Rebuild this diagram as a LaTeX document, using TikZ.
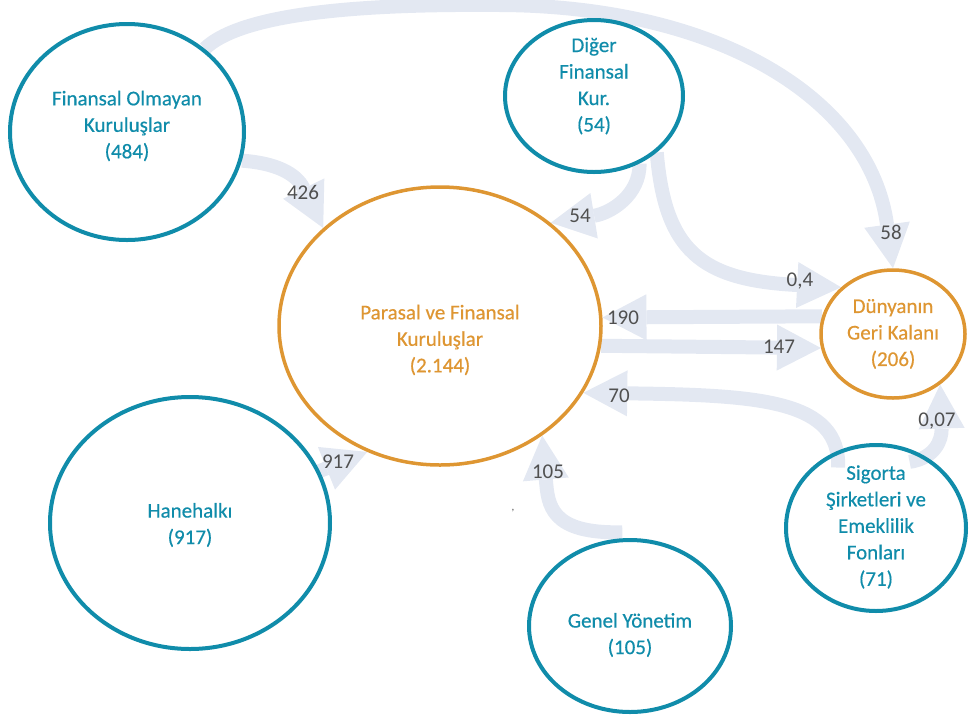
\documentclass[tikz,border=0pt]{standalone}
\usepackage{fontspec}
\setmainfont{Carlito}
\newfontfamily\sekfont{Carlito}[FakeBold=0.4]
\usepackage{tikz}
\usetikzlibrary{arrows.meta,shapes.geometric,backgrounds}
\definecolor{sekTeal}{RGB}{16,140,170}
\definecolor{sekOrange}{RGB}{222,150,50}
\definecolor{akimGri}{RGB}{227,232,242}
\definecolor{etiketGri}{RGB}{80,80,80}

\begin{document}
\begin{tikzpicture}[x=1pt, y=-1pt,
  sektor/.style={ellipse, draw=sekTeal, line width=4pt, fill=white, inner sep=0pt},
  merkez/.style={ellipse, draw=sekOrange, line width=3.5pt, fill=white, inner sep=0pt},
  yazi/.style={align=center, text=sekTeal, inner sep=0pt, font=\sekfont\fontsize{21}{26.5}\selectfont},
  akim/.style={draw=akimGri, line width=14pt, -{Triangle[length=44pt,width=46pt,line width=0pt]}},
  deger/.style={text=etiketGri, inner sep=0pt, font=\fontsize{21}{25}\selectfont}]
\clip (0,0) rectangle (970,716);
%%%%% Sektorler %%%%%
\node[sektor, minimum width=234pt, minimum height=216pt] (fok) at (127,132) {};
\node[sektor, minimum width=178pt, minimum height=152pt] (dig) at (594,96) {};
\node[merkez, minimum width=322pt, minimum height=278pt] (par) at (440,326) {};
\node[merkez, minimum width=144pt, minimum height=128pt] (dun) at (893,334) {};
\node[sektor, minimum width=180pt, minimum height=166pt, fill=none] (sig) at (876,528) {};
\node[sektor, minimum width=280pt, minimum height=252pt] (hane) at (190,523) {};
\node[sektor, minimum width=202pt, minimum height=172pt] (gen) at (630,626) {};

%%%%% Akimlar %%%%%
\begin{scope}[on background layer]
\draw[akim] (fok.47) .. controls (245,10) and (380,4) .. (500,5)
  .. controls (720,6) and (870,100) .. (dun.north);
\draw[akim] (fok.-14) .. controls (275,163) and (296,173) .. (par.140);
\draw[akim] (dig.-56) .. controls (640,195) and (611,213) .. (par.43);
\draw[akim] (dig.-42) .. controls (665,250) and (700,280) .. (dun.138);
\draw[akim] (dun.166) -- (par.3);
\draw[akim] (par.-7) -- (dun.191);
\draw[akim] ([yshift=-17pt]sig.116) .. controls (840,400) and (760,395) .. (par.-25);
\draw[akim] ([yshift=-13pt]sig.67) .. controls (935,458) and (942,440) .. (dun.-47);
\draw[akim] (hane.center) -- (par.240);
\draw[akim] ([yshift=6pt]gen.95) .. controls (550,534) and (548,505) .. (par.-47);
\end{scope}

%%%%% Yazilar %%%%%
\node[yazi] (fokT) at (127,126) {Finansal Olmayan\\Kuruluşlar\\(484)};
\node[yazi] (digT) at (594,86) {Diğer\\Finansal\\Kur.\\(54)};
\node[yazi, text=sekOrange] (parT) at (440,340) {Parasal ve Finansal\\Kuruluşlar\\(2.144)};
\node[yazi, text=sekOrange] (dunT) at (893,334) {Dünyanın\\Geri Kalanı\\(206)};
\node[yazi] (sigT) at (876,527) {Sigorta\\Şirketleri ve\\Emeklilik\\Fonları\\(71)};
\node[yazi] (haneT) at (190,525) {Hanehalkı\\(917)};
\node[yazi] (genT) at (630,635) {Genel Yönetim\\(105)};

\node[deger] (d426) at (303,192) {426};
\node[deger] (d58) at (891,232) {58};
\node[deger] (d54) at (580,216) {54};
\node[deger] (d04) at (800,281) {0,4};
\node[deger] (d190) at (623,318) {190};
\node[deger] (d147) at (779,347) {147};
\node[deger] (d70) at (619,396) {70};
\node[deger] (d007) at (937,421) {0,07};
\node[deger] (d917) at (338,462) {917};
\node[deger] (d105) at (548,472) {105};
\node[text=etiketGri, inner sep=0pt, font=\fontsize{11}{12}\selectfont] (virgul) at (513,511) {,};
\end{tikzpicture}
\end{document}
